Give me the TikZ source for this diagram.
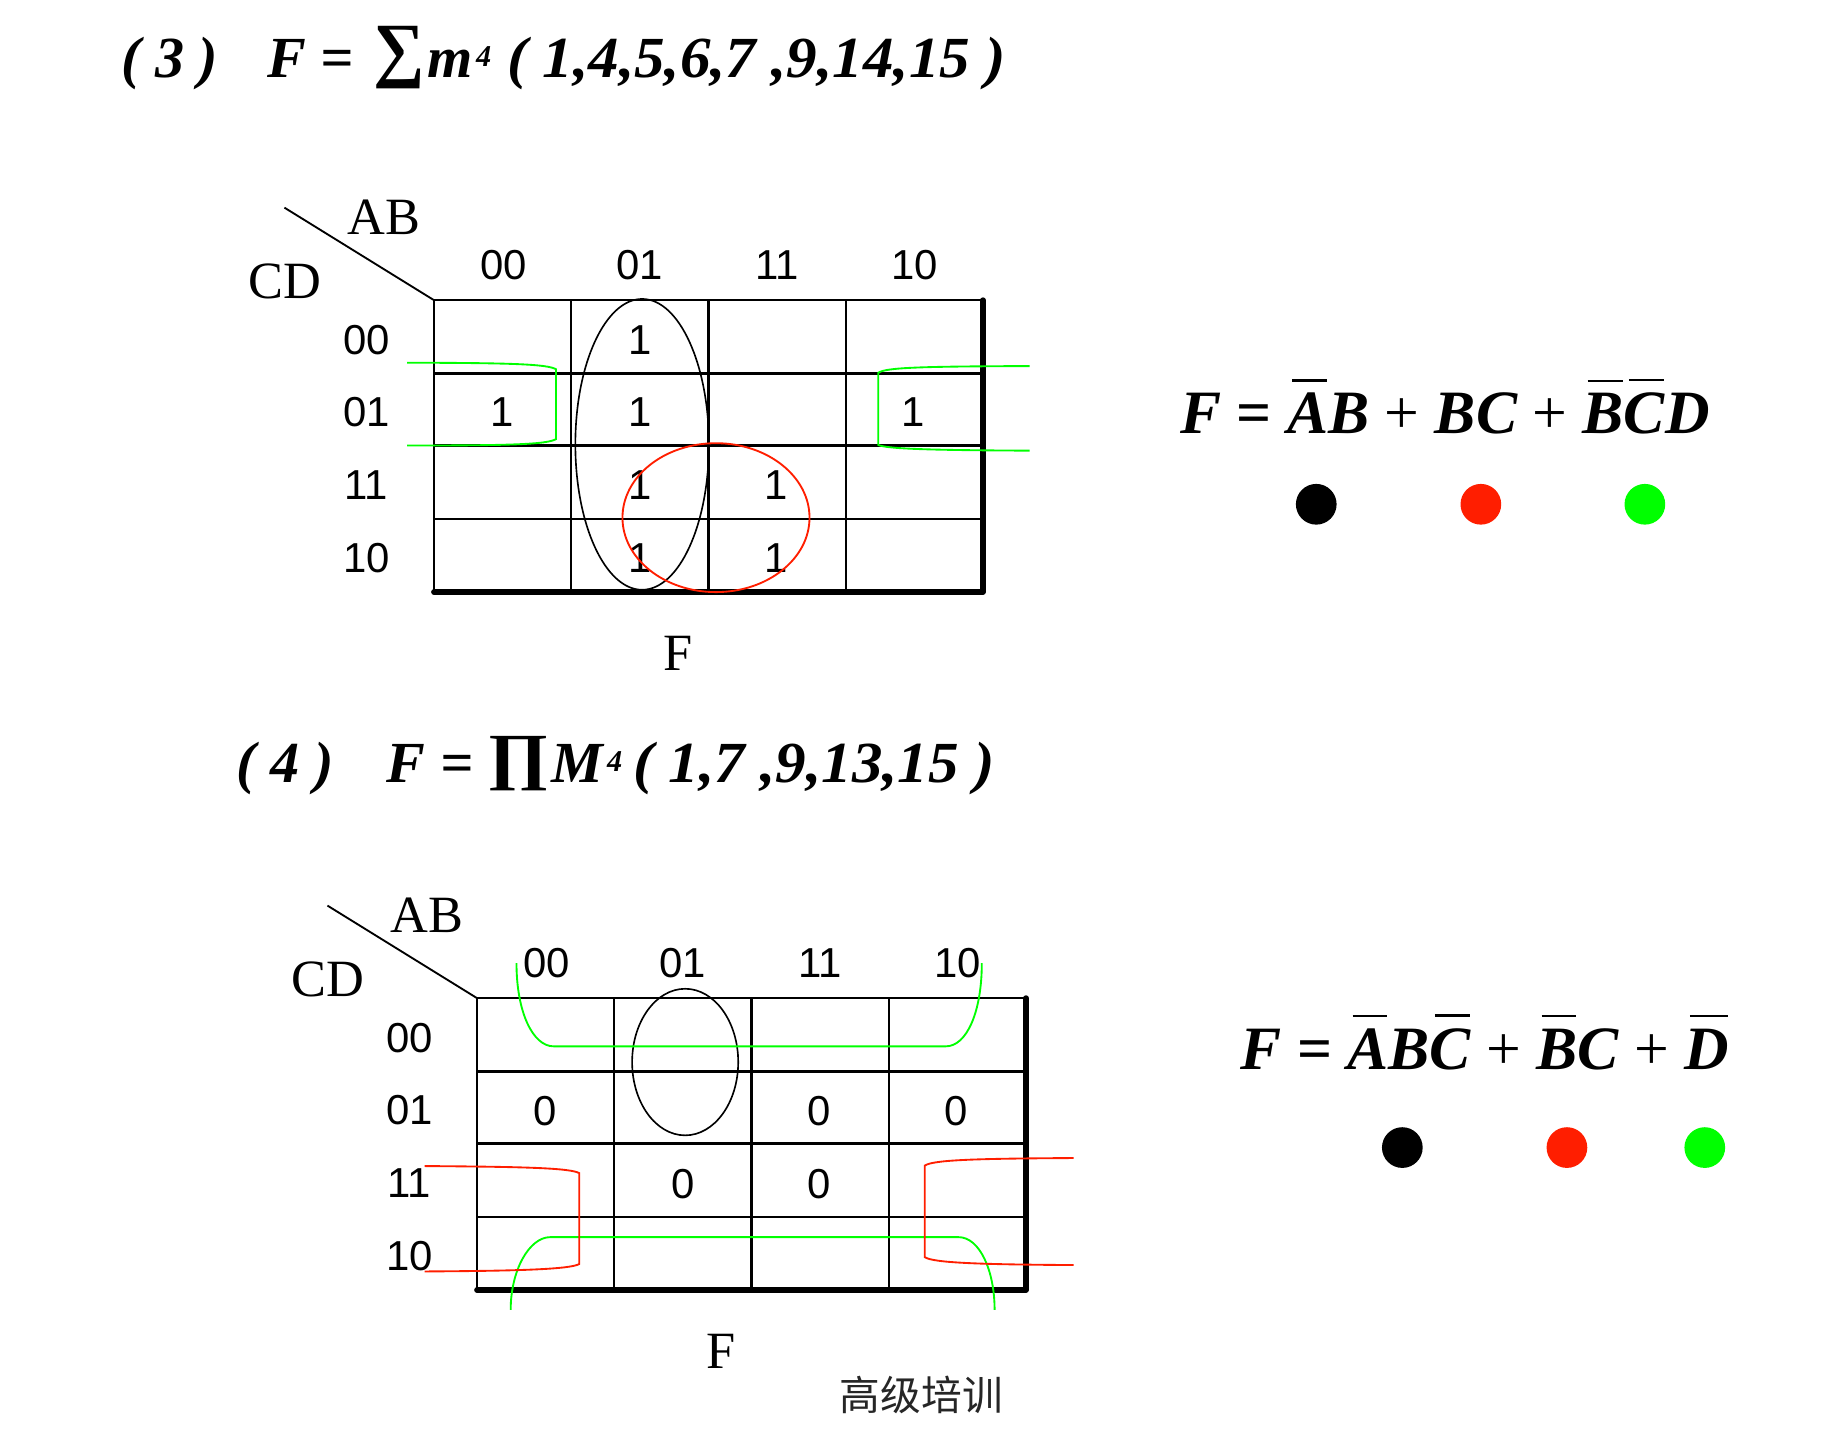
\documentclass[tikz,border=0pt]{standalone}
\usepackage{fontspec}
\usepackage{graphicx}
\setmainfont{Liberation Serif}
\setsansfont{Liberation Sans}
\newfontfamily\cjk{Noto Sans CJK SC}
\usetikzlibrary{shapes.geometric}
\definecolor{kgreen}{RGB}{0,255,0}
\definecolor{kred}{RGB}{255,30,0}
\newcommand\ob[1]{\setbox0\hbox{#1}\vbox{\offinterlineskip\hbox to\wd0{\hskip0.12\wd0\vrule height0.9pt depth0pt width0.85\wd0\hss}\kern5pt\box0}}
\newcommand\mysup[1]{\kern1.5pt\raisebox{5pt}{\fontsize{13}{14}\selectfont #1}}
\tikzset{
  gridline/.style={line width=1pt},
  thickline/.style={line width=2.4pt, line cap=round, line join=round},
  lab/.style={font=\sffamily\fontsize{18}{20}\selectfont, inner sep=0},
  big/.style={font=\fontsize{22.5}{26}\selectfont, inner sep=0},
  ttl/.style={font=\fontsize{25}{30}\selectfont\bfseries\itshape, inner sep=0, anchor=base west},
  bigop/.style={font=\bfseries, inner sep=0},
  fml/.style={font=\fontsize{26.5}{30}\selectfont\bfseries\itshape, inner sep=0, anchor=base west},
  loopline/.style={line width=0.7pt},
  grn/.style={draw=kgreen, line width=0.8pt},
  rd/.style={draw=kred, line width=0.8pt},
  dot/.style={circle, minimum size=17.5pt, inner sep=0, fill=#1},
}
\newcommand\kmap[2]{%
\begin{scope}[shift={#2}]
  \foreach \y in {258,321,383,446} \draw[gridline] (373,\y) -- (845,\y);
  \foreach \x in {373,491,609,727} \draw[gridline] (\x,258) -- (\x,509);
  \draw[thickline] (373,509) -- (845,509) -- (845,258);
  \coordinate (#1corner) at (373,258);
  \coordinate (#1diag) at (244.5,178.5);
  \draw[line width=0.8pt] (#1diag) -- (#1corner);
  \node[big] (#1ab) at (330,187) {AB};
  \node[big] (#1cd) at (245,242) {CD};
  \node[big] (#1f) at (583,562) {F};
  \node[lab] (#1c1) at (433,228) {00};
  \node[lab] (#1c2) at (550,228) {01};
  \node[lab] (#1c3) at (668,228) {11};
  \node[lab] (#1c4) at (786,228) {10};
  \node[lab] (#1r1) at (315,292) {00};
  \node[lab] (#1r2) at (315,354) {01};
  \node[lab] (#1r3) at (315,417) {11};
  \node[lab] (#1r4) at (315,480) {10};
\end{scope}}
\begin{document}
\begin{tikzpicture}[x=0.5pt, y=-0.5pt]
\useasboundingbox (0,0) rectangle (1568,1240);
% ---------- (3)
\node[ttl] (t1a) at (104,67) {( 3 )};
\node[ttl] (t1f) at (229.5,67) {F =};
\node[bigop] (t1s) at (343,49.4) {\fontsize{31}{31}\selectfont ∑};
\node[ttl] (t1m) at (367,67) {m\mysup{4}};
\node[ttl] (t1n) at (435.5,67) {\scalebox{1.05}[1]{( 1,4,5,6,7 ,9,14,15 )}};
\kmap{a}{(0,0)}
\node[lab] (a11) at (550,292) {1};
\node[lab] (a21) at (432,354) {1};
\node[lab] (a22) at (550,354) {1};
\node[lab] (a24) at (785,354) {1};
\node[lab] (a32) at (550,417) {1};
\node[lab] (a33) at (667,417) {1};
\node[lab] (a42) at (550,480) {1};
\node[lab] (a43) at (667,480) {1};
\draw[loopline] (552,382) ellipse [x radius=28.7pt, y radius=62.5pt];
\draw[rd] (615.5,445) ellipse [x radius=40.2pt, y radius=32pt];
\draw[grn] (350,311.8) .. controls (440,312) and (470,313) .. (478,317.4) -- (478,377.5) .. controls (470,382) and (440,383) .. (350,383);
\draw[grn] (885,314.7) .. controls (790,315) and (762,316) .. (755,320.4) -- (755,382.5) .. controls (762,385.5) and (790,387) .. (885,387.4);
\node[fml] (e1) at (1014,373) {F {\upshape=} \ob{A}B {\mdseries\upshape+} BC {\mdseries\upshape+} \ob{B}\ob{C}D};
\node[dot=black] (d1) at (1131.5,433.5) {};
\node[dot=kred] (d2) at (1273,433.5) {};
\node[dot=kgreen] (d3) at (1414,433.5) {};
% ---------- (4)
\node[ttl] (t2a) at (203,673) {( 4 )};
\node[ttl] (t2f) at (332,673) {F =};
\node[bigop] (t2p) at (445.4,656.8) {\scalebox{1.2}[1]{\fontsize{27}{27}\selectfont ∏}};
\node[ttl] (t2m) at (474,673) {M\mysup{4}};
\node[ttl] (t2n) at (544,673) {\scalebox{1.05}[1]{( 1,7 ,9,13,15 )}};
\kmap{b}{(37,600)}
\node[lab] (b21) at (469,955) {0};
\node[lab] (b23) at (704,955) {0};
\node[lab] (b24) at (822,955) {0};
\node[lab] (b32) at (587,1018) {0};
\node[lab] (b33) at (704,1018) {0};
\draw[loopline] (589,913) ellipse [x radius=22.8pt, y radius=31.5pt];
\draw[grn] (444,828) .. controls (444,870) and (458,899.5) .. (476,899.5) -- (813,899.5) .. controls (831,899.5) and (844,870) .. (844,828);
\draw[grn] (439,1126) .. controls (439,1092) and (455,1063.5) .. (473,1063.5) -- (824,1063.5) .. controls (842,1063.5) and (855,1092) .. (855,1126);
\draw[rd] (365,1002.4) .. controls (450,1003) and (490,1004) .. (498,1008.5) -- (498,1086.6) .. controls (490,1091) and (450,1092.5) .. (365,1093);
\draw[rd] (923,995.5) .. controls (840,996) and (802,997) .. (795,1002) -- (795,1080.7) .. controls (802,1085.5) and (840,1087) .. (923,1087.5);
\node[fml] (e2) at (1066,919) {F {\upshape=} \ob{A}B\ob{C} {\mdseries\upshape+} \ob{B}C {\mdseries\upshape+} \ob{D}};
\node[dot=black] (d4) at (1205.5,986.5) {};
\node[dot=kred] (d5) at (1347,986.5) {};
\node[dot=kgreen] (d6) at (1465.5,986.5) {};
\node[inner sep=0, text=black!85, font=\cjk\fontsize{17.5}{20}\selectfont] (cn) at (792,1199) {高级培训};
\end{tikzpicture}
\end{document}
